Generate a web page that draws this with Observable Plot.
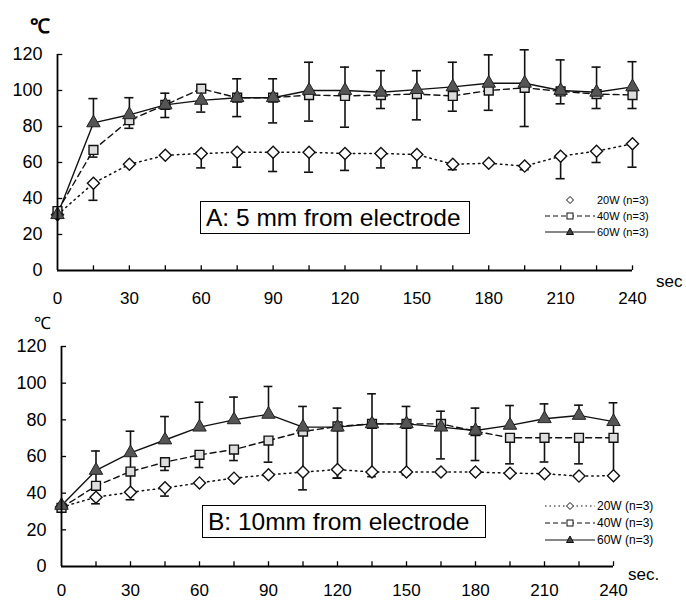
<!DOCTYPE html>
<html><head><meta charset="utf-8">
<script src="https://cdn.jsdelivr.net/npm/d3@7"></script>
<script src="https://cdn.jsdelivr.net/npm/@observablehq/plot@0.6"></script>
<style>
body{margin:0;background:#fff;font-family:"Liberation Sans",Arial,sans-serif;color:#000;}
#wrap{position:relative;width:686px;height:601px;overflow:hidden;}
.panel{position:absolute;left:0;}
.box{position:absolute;border:1.4px solid #000;background:#fff;font-size:24.5px;line-height:31px;padding:0 5px;white-space:nowrap;box-sizing:border-box;}
.unit{position:absolute;font-size:17px;}
.legend{position:absolute;}
</style></head>
<body><div id="wrap"></div>
<script>
const secs = [0,15,30,45,60,75,90,105,120,135,150,165,180,195,210,225,240];
const xTickLabels = [0,30,60,90,120,150,180,210,240];
const yTickLabels = [0,20,40,60,80,100,120];
const seriesNames = ["20W (n=3)","40W (n=3)","60W (n=3)"];

// Panel A: 5 mm from electrode
const a20   = [31, 48.5, 59, 64, 65, 65.7, 65.7, 65.7, 65, 65, 64.4, 59, 59.6, 58, 63.5, 66.3, 70.4];
const a20lo = [null, 39, null, null, 57, 57.4, 55, 54.6, 55.6, 57, 57, 56, null, 56, 51, 60, 57.4];
const a40   = [33, 67, 83.5, 92, 101, 96, 96, 97.5, 97, 97.5, 98, 97, 100, 101.5, 99.5, 98, 97.5];
const a40lo = [null, 63, 79, null, null, null, null, null, null, null, null, null, null, null, null, null, null];
const a60   = [31, 82, 86.5, 92, 94.5, 96, 96, 100, 100, 99, 100.5, 102, 104, 104, 100, 99, 102];
const a60hi = [null, 95.5, 96, 98.5, null, 106.5, 106.5, 115.7, 113, 111, 111, 115.7, 119.8, 122.6, 117, 113, 116];
const a60lo = [null, null, null, 85, 88, 85.5, 82, 83, 79.6, 90, 83.7, 88.5, 89, 80, 92.6, 90, 90];

// Panel B: 10 mm from electrode
const b20   = [32.4, 37.8, 40.5, 42.9, 45.6, 48.2, 50, 51.5, 52.9, 51.5, 51.5, 51.5, 51.5, 50.9, 50.6, 49.3, 49.5];
const b20lo = [null, 34.2, 36.4, 38.4, null, null, null, null, 48.2, null, null, null, null, null, null, null, null];
const b40   = [32, 44, 51.8, 56.9, 60.9, 63.8, 68.7, 73.6, 76.4, 77.8, 77.8, 77.8, 73.8, 70.2, 70.2, 70.2, 70.2];
const b40lo = [null, null, 40.5, 52.4, 54, 57.8, 56.9, 41.8, null, null, null, null, null, 56, 57, 56, null];
const b60   = [33.3, 52.4, 62, 69, 76, 80, 83, 76, 76, 77.8, 77.8, 76, 74.2, 77, 80.6, 82.4, 79];
const b60hi = [null, 63, 73.8, 81.8, 89.6, 92.4, 98.2, 87.3, 86.4, 94.2, 87.3, 84.7, 86.4, 87.8, 88.7, 88, 89.3];
const b60lo = [null, 44, 51.8, null, null, null, null, null, 48.2, 49, 50, 58.7, 57.8, null, null, null, 50];

const FONT = '"Liberation Sans", Arial, sans-serif';
const rows = (v, lo, hi) => secs.map((t, i) => ({t, v: v[i], lo: lo ? lo[i] : null, hi: hi ? hi[i] : null}));

function panel({s20, s40, s60, height, mt, mb, ml, mr, xPad}) {
  const all = [...s20, ...s40, ...s60];
  const bars = [], caps = [];
  for (const d of all) {
    if (d.hi != null) { bars.push({t: d.t, a: d.v, b: d.hi}); caps.push({t: d.t, y: d.hi}); }
    if (d.lo != null) { bars.push({t: d.t, a: d.lo, b: d.v}); caps.push({t: d.t, y: d.lo}); }
  }
  return Plot.plot({
    width: 686, height, marginTop: mt, marginBottom: mb, marginLeft: ml, marginRight: mr,
    x: {domain: [0, 240]}, y: {domain: [0, 120]},
    style: {fontFamily: FONT, fontSize: "16px", color: "#000", background: "transparent", overflow: "visible"},
    marks: [
      Plot.ruleX(bars, {x: "t", y1: "a", y2: "b", stroke: "#111", strokeWidth: 1.6}),
      Plot.ruleY(caps, {y: "y", x1: d => d.t - 1.9, x2: d => d.t + 1.9, stroke: "#111", strokeWidth: 1.6}),
      Plot.line(s20, {x: "t", y: "v", stroke: "#111", strokeWidth: 1.5, strokeDasharray: "1.5,4"}),
      Plot.line(s40, {x: "t", y: "v", stroke: "#111", strokeWidth: 1.4, strokeDasharray: "6,4"}),
      Plot.line(s60, {x: "t", y: "v", stroke: "#111", strokeWidth: 1.4}),
      Plot.dot(s20, {x: "t", y: "v", symbol: "square", rotate: 45, r: 4.8, fill: "white", stroke: "#111", strokeWidth: 1.4}),
      Plot.dot(s40, {x: "t", y: "v", symbol: "square", r: 5, fill: "#ddd", stroke: "#111", strokeWidth: 1.4}),
      Plot.dot(s60, {x: "t", y: "v", symbol: "triangle", r: 5, fill: "#555", stroke: "#222", strokeWidth: 1}),
      Plot.ruleX([0], {stroke: "#000", strokeWidth: 1.8}),
      Plot.ruleY([0], {stroke: "#000", strokeWidth: 1.8}),
      Plot.ruleX(secs.slice(1), {x: d => d, y1: 0, y2: 2.6, stroke: "#000", strokeWidth: 1.3}),
      Plot.ruleY(yTickLabels.slice(1), {y: d => d, x1: 0, x2: 2.2, stroke: "#000", strokeWidth: 1.3}),
      Plot.axisY({ticks: yTickLabels, tickSize: 0, tickPadding: 15, fontSize: 18, label: null}),
      Plot.axisX({ticks: xTickLabels, tickSize: 0, tickPadding: xPad, fontSize: 17, label: null})
    ]
  });
}

function legend(left, top, gap, fs, firstLine) {
  const w = 140, h = gap * 3 + 6;
  const svg = d3.create("svg").attr("width", w).attr("height", h)
    .attr("class", "legend").style("left", left + "px").style("top", top + "px")
    .style("font-family", FONT).style("font-size", fs + "px");
  const dashes = ["1.5,3", "5,3", null];
  seriesNames.forEach((name, i) => {
    const y = 6 + i * gap;
    if (i > 0 || firstLine) {
      const l = svg.append("line").attr("x1", 2).attr("x2", 52).attr("y1", y).attr("y2", y).attr("stroke", "#111").attr("stroke-width", 1.2);
      if (dashes[i]) l.attr("stroke-dasharray", dashes[i]);
    }
    if (i === 0) svg.append("path").attr("d", "M27,"+(y-3.5)+"l3.5,3.5l-3.5,3.5l-3.5,-3.5z").attr("fill", "white").attr("stroke", "#111");
    if (i === 1) svg.append("rect").attr("x", 24).attr("y", y - 3).attr("width", 6).attr("height", 6).attr("fill", "white").attr("stroke", "#111");
    if (i === 2) svg.append("path").attr("d", "M27,"+(y-4)+"l3.5,6.5h-7z").attr("fill", "#444").attr("stroke", "#111");
    svg.append("text").attr("x", 54).attr("y", y).attr("dy", "0.35em").text(name);
  });
  return svg.node();
}

const wrap = document.getElementById("wrap");
const pA = panel({s20: rows(a20, a20lo), s40: rows(a40, a40lo), s60: rows(a60, a60lo, a60hi),
  height: 296, mt: 54, mb: 26, ml: 57, mr: 54, xPad: 21});
pA.classList.add("panel"); pA.style.top = "0px";
const pB = panel({s20: rows(b20, b20lo), s40: rows(b40, b40lo), s60: rows(b60, b60lo, b60hi),
  height: 305, mt: 50, mb: 35, ml: 61, mr: 73, xPad: 17});
pB.classList.add("panel"); pB.style.top = "296px";
wrap.append(pA, pB);

function add(html, cls, css) {
  const el = document.createElement("div"); el.className = cls; el.innerHTML = html;
  Object.assign(el.style, css); wrap.append(el); return el;
}
add("A: 5 mm from electrode", "box", {left: "200px", top: "201px", width: "270px", height: "33px"});
add("B: 10mm from electrode", "box", {left: "202px", top: "505px", width: "284px", height: "33px"});
add("℃", "unit", {left: "30px", top: "12px", fontWeight: "bold", fontSize: "20px"});
add("℃", "unit", {left: "34px", top: "311px"});
add("sec", "unit", {left: "656px", top: "272px", fontSize: "17px"});
add("sec.", "unit", {left: "628px", top: "565px", fontSize: "17px"});
wrap.append(legend(543, 194, 16, 11, false));
wrap.append(legend(543, 500, 17, 12, true));
</script></body></html>
